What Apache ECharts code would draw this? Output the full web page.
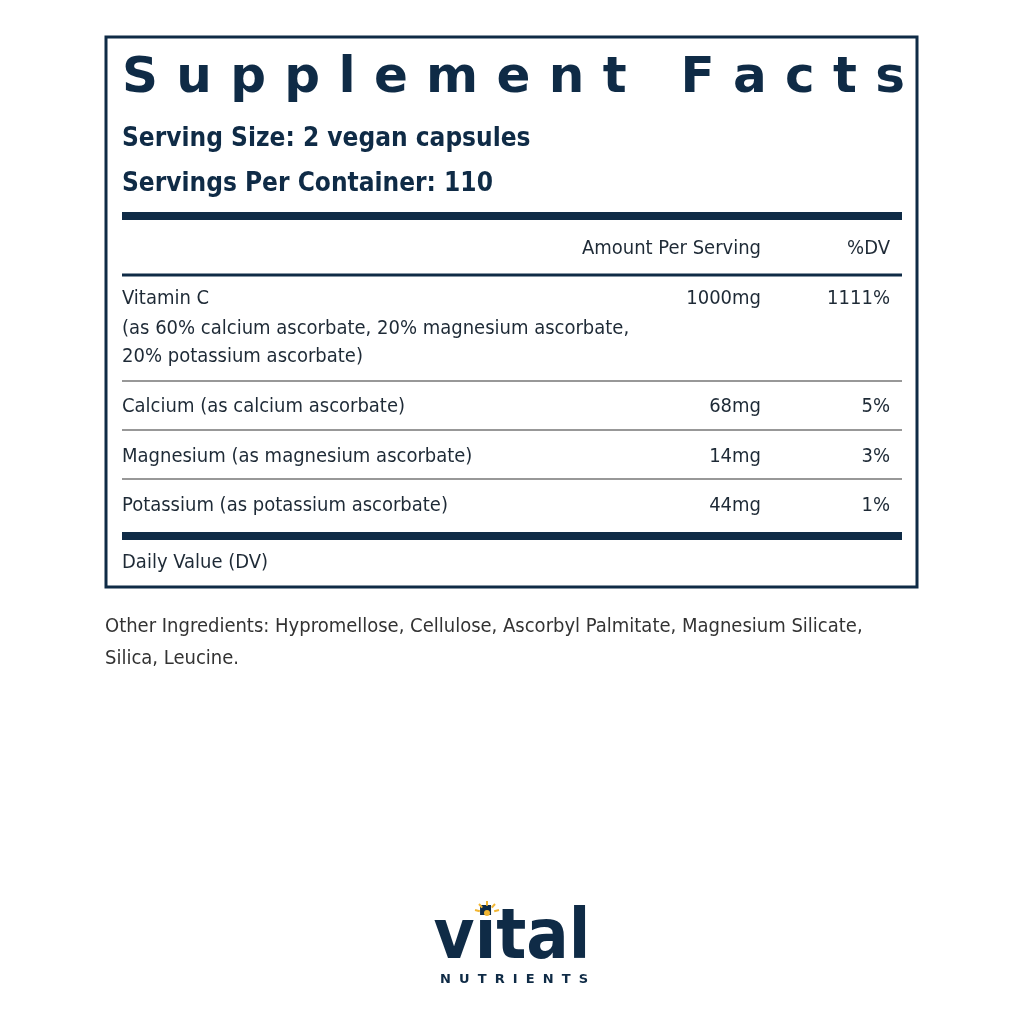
<!DOCTYPE html>
<html><head><meta charset="utf-8">
<script src="https://cdn.jsdelivr.net/npm/echarts@6/dist/echarts.min.js"></script>
<style>html,body{margin:0;padding:0;background:#fff}#c{width:1024px;height:1024px}</style>
</head><body><div id="c"></div>
<script>
const title = "Supplement Facts";
const servingLines = ["Serving Size: 2 vegan capsules", "Servings Per Container: 110"];
const headers = ["Amount Per Serving", "%DV"];
const nutrientNames = ["Vitamin C", "Calcium (as calcium ascorbate)", "Magnesium (as magnesium ascorbate)", "Potassium (as potassium ascorbate)"];
const nutrientNotes = [["(as 60% calcium ascorbate, 20% magnesium ascorbate,", "20% potassium ascorbate)"], [], [], []];
const amounts = ["1000mg", "68mg", "14mg", "44mg"];
const dvs = ["1111%", "5%", "3%", "1%"];
const footnote = "Daily Value (DV)";
const otherLines = ["Other Ingredients: Hypromellose, Cellulose, Ascorbyl Palmitate, Magnesium Silicate,", "Silica, Leucine."];
const brand = "vital";
const brandSub = "NUTRIENTS";

const NAVY = "#0f2b46", TXT = "#1e2a36", F = "'DejaVu Sans Condensed','DejaVu Sans',sans-serif";
const g = [];
const txt = (x, y, s, o) => g.push({type:'text', x, y, style:Object.assign({text:s, fill:TXT, font:"20px " + F, textAlign:'left', textVerticalAlign:'middle'}, o||{})});
const line = (x1, y1, x2, y2, w, c) => g.push({type:'line', shape:{x1,y1,x2,y2}, style:{stroke:c||NAVY, lineWidth:w}});
const cv = document.createElement('canvas').getContext('2d');
function spaced(str, x0, x1, y, font, fill) {
  cv.font = font;
  const ws = str.split("").map(ch => cv.measureText(ch).width);
  const total = ws.reduce((a, b) => a + b, 0);
  const gap = (x1 - x0 - total) / (ws.length - 1);
  let x = x0;
  str.split("").forEach((ch, i) => { txt(x, y, ch, {font, fill}); x += ws[i] + gap; });
}

g.push({type:'rect', shape:{x:106, y:37, width:811, height:550}, style:{fill:'none', stroke:NAVY, lineWidth:3}});
spaced(title, 122, 905, 79, "bold 50px 'DejaVu Sans',sans-serif", NAVY);
servingLines.forEach((s, i) => txt(122, 139 + i * 45, s, {font:"bold 26px " + F, fill:NAVY}));
line(122, 216, 902, 216, 8);
txt(761, 249, headers[0], {textAlign:'right'});
txt(890, 249, headers[1], {textAlign:'right'});
line(122, 275, 902, 275, 3);
const rowY = [299, 407, 457, 506];
const sepY = [381, 430, 479];
nutrientNames.forEach((n, i) => {
  txt(122, rowY[i], n);
  nutrientNotes[i].forEach((s, j) => txt(122, rowY[i] + 30 + j * 28, s));
  txt(761, rowY[i], amounts[i], {textAlign:'right'});
  txt(890, rowY[i], dvs[i], {textAlign:'right'});
});
sepY.forEach(y => line(122, y, 902, y, 1.2, "#333"));
line(122, 536, 902, 536, 8);
txt(122, 563, footnote);
otherLines.forEach((s, i) => txt(105, 627 + i * 32, s, {fill:"#333"}));
// logo
txt(512, 940, brand, {font:"bold 70px 'DejaVu Sans Condensed',sans-serif", fill:NAVY, textAlign:'center'});
spaced(brandSub, 440, 588, 980, "bold 13px 'DejaVu Sans',sans-serif", NAVY);
[[-12,-3],[-8,-9],[0,-12],[8,-9],[12,-3]].forEach(([dx, dy]) => line(487 + dx*0.6, 913 + dy*0.6, 487 + dx, 913 + dy, 2, "#f2b632"));
g.push({type:'circle', shape:{cx:487, cy:913, r:3}, style:{fill:"#f2b632"}});

const chart = echarts.init(document.getElementById('c'));
chart.setOption({animation:false, graphic:{elements:g}});
</script></body></html>
